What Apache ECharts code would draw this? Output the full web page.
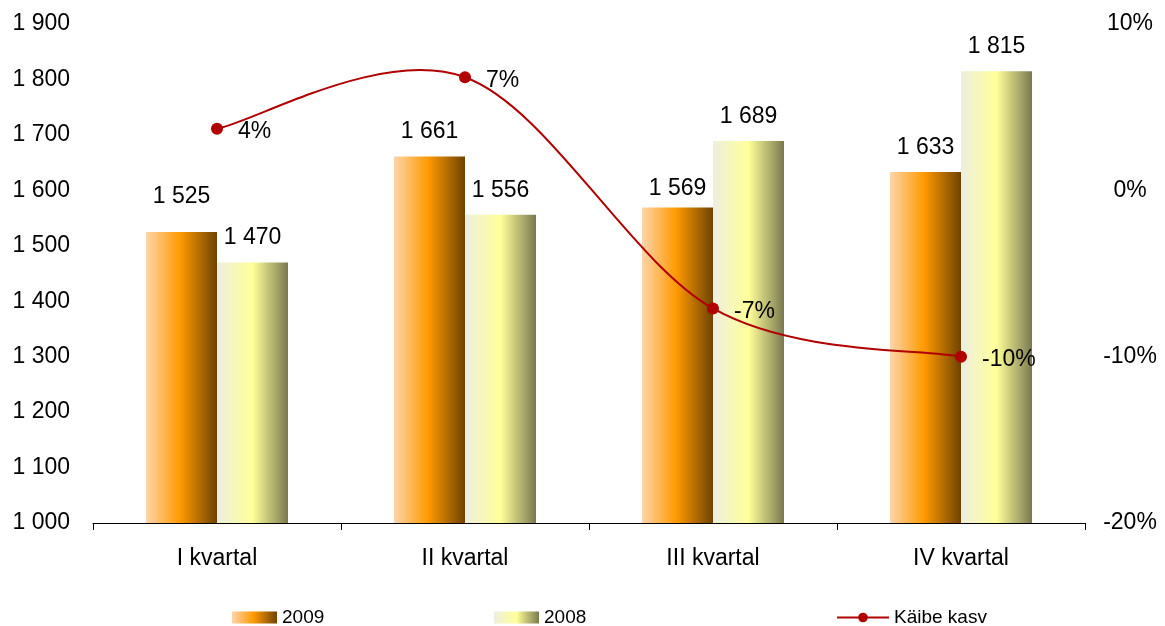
<!DOCTYPE html>
<html>
<head>
<meta charset="utf-8">
<script src="https://cdn.jsdelivr.net/npm/echarts@6/dist/echarts.min.js"></script>
<style>
  html, body { margin: 0; padding: 0; background: #fff; }
  #chart { width: 1165px; height: 626px; }
</style>
</head>
<body>
<div id="chart"></div>
<script>
// data
var categories = ['I kvartal', 'II kvartal', 'III kvartal', 'IV kvartal'];
var sales2009 = [1525, 1661, 1569, 1633];
var sales2008 = [1470, 1556, 1689, 1815];
var growth = [3.7, 6.8, -7.1, -10.0];

var font = 'Liberation Sans, Arial, sans-serif';
var red = '#B00000';

function spaced(v) {
    return String(v).replace(/\B(?=(\d{3})+(?!\d))/g, ' ');
}

var orangeGrad = new echarts.graphic.LinearGradient(0, 0, 1, 0, [
    { offset: 0, color: '#FDD5AC' },
    { offset: 0.48, color: '#FF9A00' },
    { offset: 1, color: '#6E4300' }
]);
var oliveGrad = new echarts.graphic.LinearGradient(0, 0, 1, 0, [
    { offset: 0, color: '#EEEEE0' },
    { offset: 0.5, color: '#FFFF99' },
    { offset: 1, color: '#7A7A50' }
]);

// small nudges for the overlapping labels, like in the original
var offs2009 = [[0, -11], [0, 0], [0, 6], [0, 0]];

// excel-like smoothed curve (catmull-rom through the points)
function renderCurve(params, api) {
    var i = params.dataIndex;
    var n = growth.length;
    if (i >= n - 1) return null;
    var pts = growth.map(function (g, k) { return api.coord([k, g]); });
    var p0 = pts[Math.max(i - 1, 0)];
    var p1 = pts[i];
    var p2 = pts[i + 1];
    var p3 = pts[Math.min(i + 2, n - 1)];
    return {
        type: 'bezierCurve',
        shape: {
            x1: p1[0], y1: p1[1], x2: p2[0], y2: p2[1],
            cpx1: p1[0] + (p2[0] - p0[0]) / 6, cpy1: p1[1] + (p2[1] - p0[1]) / 6,
            cpx2: p2[0] - (p3[0] - p1[0]) / 6, cpy2: p2[1] - (p3[1] - p1[1]) / 6
        },
        style: { stroke: red, lineWidth: 2, fill: null }
    };
}

var legendText = { fontSize: 19, color: '#000', fontFamily: font };

var chart = echarts.init(document.getElementById('chart'));

var option = {
    animation: false,
    textStyle: { fontFamily: font },
    grid: { left: 93, right: 80, top: 24, bottom: 103 },
    legend: [
        {
            left: 232, top: 608, padding: 0, itemWidth: 45, itemHeight: 12,
            textStyle: legendText,
            data: [{ name: '2009', icon: 'rect' }]
        },
        {
            left: 494, top: 608, padding: 0, itemWidth: 45, itemHeight: 12,
            textStyle: legendText,
            data: [{ name: '2008', icon: 'rect' }]
        },
        {
            left: 836, top: 608, padding: 0, itemWidth: 52, itemHeight: 12,
            textStyle: legendText,
            data: [{ name: 'Käibe kasv', lineStyle: { width: 2, color: red, opacity: 1 } }]
        }
    ],
    xAxis: {
        type: 'category',
        data: categories,
        boundaryGap: true,
        axisLine: { show: true, onZero: false, lineStyle: { color: '#000', width: 1 } },
        axisTick: { show: true, alignWithLabel: false, interval: 0, length: 7, lineStyle: { color: '#000', width: 1 } },
        axisLabel: { color: '#000', fontSize: 23, margin: 24, fontFamily: font }
    },
    yAxis: [
        {
            type: 'value', min: 1000, max: 1900, interval: 100,
            axisLine: { show: false }, axisTick: { show: false },
            splitLine: { show: false },
            axisLabel: { color: '#000', fontSize: 23, margin: 23, fontFamily: font,
                formatter: function (v) { return spaced(v); } }
        },
        {
            type: 'value', min: -20, max: 10, interval: 10,
            axisLine: { show: false }, axisTick: { show: false },
            splitLine: { show: false },
            axisLabel: { color: '#000', fontSize: 23, margin: 45, align: 'center', fontFamily: font,
                formatter: '{value}%' }
        }
    ],
    series: [
        {
            name: '2009', type: 'bar', barWidth: 71, barGap: '0%',
            itemStyle: { color: orangeGrad },
            label: { show: true, position: 'top', distance: 13, color: '#000', fontSize: 23, fontFamily: font,
                formatter: function (p) { return spaced(p.value); } },
            data: sales2009.map(function (v, i) {
                return { value: v, label: { offset: offs2009[i] } };
            })
        },
        {
            name: '2008', type: 'bar', barWidth: 71, barGap: '0%',
            itemStyle: { color: oliveGrad },
            label: { show: true, position: 'top', distance: 13, color: '#000', fontSize: 23, fontFamily: font,
                formatter: function (p) { return spaced(p.value); } },
            data: sales2008
        },
        {
            name: '_curve', type: 'custom', yAxisIndex: 1, z: 4,
            renderItem: renderCurve,
            encode: { x: 0, y: 1 },
            data: growth.map(function (g, i) { return [i, g]; })
        },
        {
            name: 'Käibe kasv', type: 'line', yAxisIndex: 1,
            symbol: 'circle', symbolSize: 12,
            lineStyle: { color: red, width: 2, opacity: 0 },
            itemStyle: { color: red },
            label: { show: true, position: 'right', distance: 15, offset: [0, 3], color: '#000', fontSize: 23, fontFamily: font,
                formatter: function (p) { return Math.round(p.value) + '%'; } },
            z: 5,
            data: growth
        }
    ]
};

chart.setOption(option);
</script>
</body>
</html>
